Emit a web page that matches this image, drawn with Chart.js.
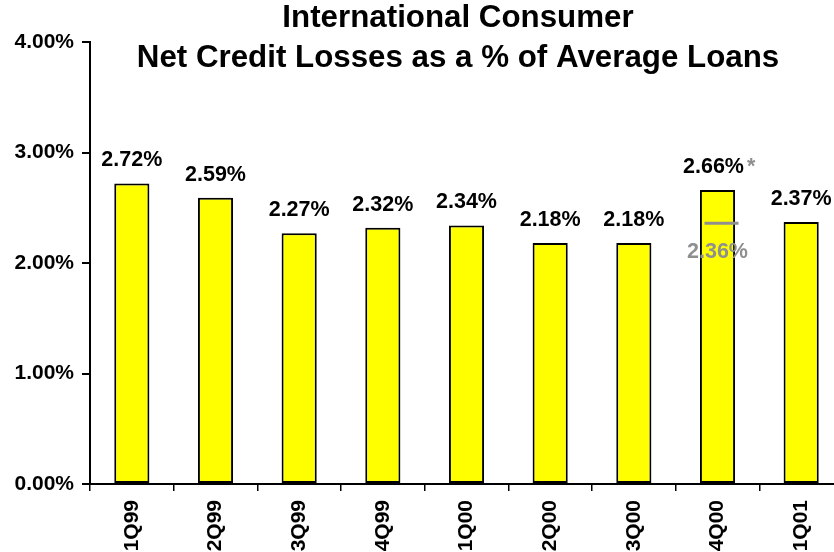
<!DOCTYPE html>
<html>
<head>
<meta charset="utf-8">
<script src="https://cdn.jsdelivr.net/npm/chart.js@4/dist/chart.umd.min.js"></script>
<style>
body{margin:0;background:#fff;overflow:hidden}
#wrap{width:834px;height:552px;overflow:hidden}
</style>
</head>
<body>
<div id="wrap"><canvas id="nclChart" width="843" height="552"></canvas></div>
<script>
// quarterly net credit losses, % of average loans
const quarters = ["1Q99","2Q99","3Q99","4Q99","1Q00","2Q00","3Q00","4Q00","1Q01"]
const lossRates = [2.72,2.59,2.27,2.32,2.34,2.18,2.18,2.66,2.37]
// adjusted rate shown as a grey marker on 4Q00
const adjustedRates = [null,null,null,null,null,null,null,2.36,null]
const footnoteMarks = ["","","","","","","","*",""]
const yTicks = [0,1,2,3,4]
const titleLines = ["International Consumer","Net Credit Losses as a % of Average Loans"]

const FONT = "'Liberation Sans', Arial, sans-serif"
const GREY = "#8f8f8f"

const labelPlugin = {
id:"labels",
afterDatasetsDraw(chart){
const ctx = chart.ctx
const y = chart.scales.y
const bars = chart.getDatasetMeta(0).data

ctx.save()
ctx.textAlign = "center"
ctx.textBaseline = "alphabetic"

bars.forEach(function(bar, i){
let text = lossRates[i].toFixed(2) + "%"
ctx.font = "bold 21.5px " + FONT
ctx.fillStyle = "#000"
let cx = bar.x
if(footnoteMarks[i]){
cx = bar.x - 4
}
ctx.fillText(text, cx, bar.y - 17)
if(footnoteMarks[i]){
let w = ctx.measureText(text).width
ctx.fillStyle = GREY
ctx.textAlign = "left"
ctx.fillText(footnoteMarks[i], cx + w/2 + 3, bar.y - 17)
ctx.textAlign = "center"
}

if(adjustedRates[i] != null){
let ly = y.getPixelForValue(adjustedRates[i])
ctx.strokeStyle = GREY
ctx.lineWidth = 3
ctx.beginPath()
ctx.moveTo(bar.x - 13, ly)
ctx.lineTo(bar.x + 21, ly)
ctx.stroke()
ctx.fillStyle = GREY
ctx.fillText(adjustedRates[i].toFixed(2) + "%", bar.x, ly + 35)
}
})

// two-line heading
ctx.fillStyle = "#000"
ctx.font = "bold 31.3px " + FONT
ctx.fillText(titleLines[0], 458, 27)
ctx.fillText(titleLines[1], 458, 67)
ctx.restore()
}
}

window.onload = function(){

const ctx = document.getElementById("nclChart").getContext("2d")

new Chart(ctx,{
type:"bar",
data:{
labels:quarters,
datasets:[{
label:"Net Credit Losses",
data:lossRates,
backgroundColor:"#ffff00",
borderColor:"#000",
borderWidth:2,
borderSkipped:false,
categoryPercentage:1,
barPercentage:0.42
}]
},
options:{
responsive:false,
animation:false,
layout:{padding:{top:42,left:0,right:0,bottom:0}},
plugins:{
legend:{display:false},
tooltip:{enabled:false}
},
scales:{
x:{
grid:{offset:true,drawOnChartArea:false,drawTicks:true,tickLength:7,color:"#000",lineWidth:1.5},
border:{display:true,color:"#000",width:2},
ticks:{
autoSkip:false,minRotation:90,maxRotation:90,padding:9,
color:"#000",font:{family:FONT,size:21,weight:"bold"}
},
afterFit(scale){ scale.height = 68 }
},
y:{
min:0,max:4,
afterBuildTicks(scale){ scale.ticks = yTicks.map(v => ({value:v})) },
grid:{drawOnChartArea:false,drawTicks:true,tickLength:8,color:"#000",lineWidth:2},
border:{display:true,color:"#000",width:2},
ticks:{
padding:8,color:"#000",font:{family:FONT,size:21,weight:"bold"},
callback:function(v){ return v.toFixed(2) + "%" }
},
afterFit(scale){ scale.width = 90 }
}
}
},
plugins:[labelPlugin]
})

}
</script>
</body>
</html>
